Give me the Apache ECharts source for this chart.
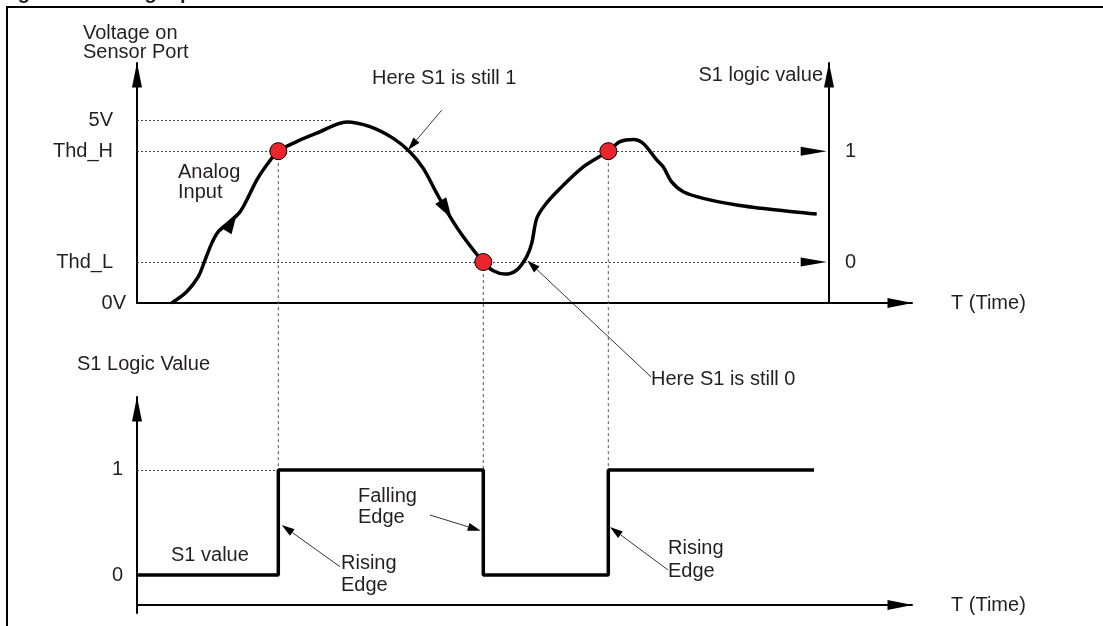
<!DOCTYPE html>
<html>
<head>
<meta charset="utf-8">
<script src="https://cdn.jsdelivr.net/npm/echarts@6/dist/echarts.min.js"></script>
<style>
    html, body { margin: 0; padding: 0; background: #fff; }
    #chart { width: 1103px; height: 626px; }
</style>
</head>
<body>
<div id="chart"></div>
<script>
// analog input on the sensor port (time units, volts)
const analogTime = [3.47, 4.97, 6.13, 6.8, 7.47, 8.13, 9.3, 10.3, 11.13, 11.97, 12.97, 14.13, 15.97, 17.97, 20.97, 23.3, 25.63, 27.3, 28.63, 29.97, 31.3, 32.63, 34.63, 35.63, 36.8, 37.97, 38.97, 39.47, 39.97, 40.8, 42.3, 44.63, 47.13, 48.3, 49.63, 50.63, 51.97, 52.63, 53.47, 54.63, 56.63, 59.97, 63.97, 67.97]
const analogVolt = [0, 0.31, 0.72, 1.17, 1.63, 1.95, 2.22, 2.49, 2.90, 3.36, 3.77, 4.15, 4.41, 4.64, 4.95, 4.82, 4.50, 4.13, 3.68, 3.0, 2.36, 1.81, 1.12, 0.88, 0.79, 0.90, 1.27, 1.63, 2.31, 2.68, 3.13, 3.72, 4.15, 4.41, 4.47, 4.36, 3.91, 3.72, 3.31, 3.04, 2.86, 2.68, 2.54, 2.43]

// threshold crossings (red dots)
const crossTime = [14.13, 34.63, 47.13]
const crossVolt = [4.15, 1.12, 4.15]

const thdHigh = 4.15
const thdLow = 1.12
const vMax = 5

// left axis ticks of the voltage plot
const levelTicks = [0, 1.12, 4.15, 5]
const levelNames = ['0V', 'Thd_L', 'Thd_H', '5V']
// right axis (S1 logic value) ticks
const logicRightTicks = [1.12, 4.15]
const logicRightNames = ['0', '1']

// S1 logic value (step)
const logicTime = [0, 14.13, 34.63, 47.13, 67.7]
const logicValue = [0, 1, 0, 1, 1]
const logicTicks = [0, 1]
const logicNames = ['0', '1']

let font = "'Liberation Sans', Arial, sans-serif"
let ink = '#231f20'
let fs = 20

let axisLine = {
    show: true,
    lineStyle: { color: '#000', width: 2 },
    symbol: ['none', 'triangle'],
    symbolSize: [10, 25],
    symbolOffset: [0, -12]
}
let labelStyle = { color: ink, fontSize: fs, fontFamily: font }

let option = {
    animation: false,
    grid: [
        { left: 137, top: 63, width: 775, height: 240, outerBoundsMode: 'none' },
        { left: 137, top: 397, width: 775, height: 216, outerBoundsMode: 'none' }
    ],
    xAxis: [{
        gridIndex: 0, type: 'value', min: 0, max: 77.5,
        axisLine: axisLine, axisTick: { show: false }, axisLabel: { show: false }, splitLine: { show: false },
        name: 'T (Time)', nameLocation: 'end', nameGap: 39,
        nameTextStyle: Object.assign({ align: 'left', verticalAlign: 'middle' }, labelStyle)
    }, {
        gridIndex: 1, type: 'value', min: 0, max: 77.5, offset: -8,
        axisLine: Object.assign({ onZero: false }, axisLine), axisTick: { show: false }, axisLabel: { show: false }, splitLine: { show: false },
        name: 'T (Time)', nameLocation: 'end', nameGap: 39,
        nameTextStyle: Object.assign({ align: 'left', verticalAlign: 'middle', padding: [0, 0, 16, 0] }, labelStyle)
    }],
    yAxis: [{
        gridIndex: 0, type: 'value', min: 0, max: 6.56,
        axisLine: axisLine, axisTick: { show: false }, splitLine: { show: false },
        axisLabel: Object.assign({
            margin: 24,
            customValues: levelTicks,
            formatter: function(v) {
                let i = levelTicks.indexOf(v)
                return i === 0 ? '{z|' + levelNames[i] + '}' : levelNames[i]
            },
            rich: { z: { fontSize: fs, fontFamily: font, color: ink, padding: [0, -13, 0, 0] } }
        }, labelStyle)
    }, {
        gridIndex: 0, type: 'value', min: 0, max: 6.56, position: 'right', offset: -83,
        axisLine: axisLine, axisTick: { show: false }, splitLine: { show: false },
        axisLabel: Object.assign({
            margin: 16,
            customValues: logicRightTicks,
            formatter: function(v) { return logicRightNames[logicRightTicks.indexOf(v)] }
        }, labelStyle)
    }, {
        gridIndex: 1, type: 'value', min: -0.362, max: 1.695,
        axisLine: axisLine, axisTick: { show: false }, splitLine: { show: false },
        axisLabel: Object.assign({
            margin: 14,
            customValues: logicTicks,
            formatter: function(v) { return logicNames[logicTicks.indexOf(v)] }
        }, labelStyle)
    }],
    series: [{
        name: 'Analog Input',
        type: 'line',
        xAxisIndex: 0, yAxisIndex: 0,
        data: analogTime.map((t, i) => [t, analogVolt[i]]),
        smooth: 0.3,
        showSymbol: false,
        lineStyle: { color: '#000', width: 3.5 },
        z: 5,
        markLine: {
            silent: true,
            symbol: 'none',
            label: { show: false },
            lineStyle: { color: '#444', type: [2, 2], width: 1 },
            data: [
                [{ coord: [0, vMax] }, { coord: [19.6, vMax] }],
                [{ coord: [0, thdHigh] }, { coord: [68, thdHigh] }],
                [{ coord: [0, thdLow] }, { coord: [68, thdLow] }]
            ]
        }
    }, {
        name: 'Crossing',
        type: 'scatter',
        xAxisIndex: 0, yAxisIndex: 0,
        data: crossTime.map((t, i) => [t, crossVolt[i]]),
        symbol: 'circle',
        symbolSize: 17,
        itemStyle: { color: '#e8262c', borderColor: '#000', borderWidth: 1, opacity: 1 },
        z: 8
    }, {
        name: 'S1 value',
        type: 'line',
        xAxisIndex: 1, yAxisIndex: 2,
        step: 'end',
        data: logicTime.map((t, i) => [t, logicValue[i]]),
        showSymbol: false,
        lineStyle: { color: '#000', width: 3.5 },
        z: 5,
        markLine: {
            silent: true,
            symbol: 'none',
            label: { show: false },
            lineStyle: { color: '#444', type: [2, 2], width: 1 },
            data: [[{ coord: [0, 1] }, { coord: [crossTime[0], 1] }]]
        }
    }]
}

var myChart = echarts.init(document.getElementById('chart'))
myChart.setOption(option)

// annotations, in data coords of their grid: [grid, fromT, fromV, tipT, tipV, len, width, withLine]
let arrows = [
    [0, 8.9, 1.97, 10.0, 2.46, 21, 13, false],      // direction on rising curve
    [0, 30.1, 2.92, 31.47, 2.31, 21, 13, false],    // direction on falling curve
    [0, 60, thdHigh, 68.97, thdHigh, 26, 9, false],
    [0, 60, thdLow, 68.97, thdLow, 26, 9, false],
    [0, 30.47, 5.27, 27.1, 4.18, 13, 8, true],      // Here S1 is still 1
    [0, 51.4, -2.02, 39.03, 1.16, 13, 8, true],     // Here S1 is still 0
    [1, 20.3, 0.079, 14.47, 0.476, 13, 8, true],    // Rising Edge
    [1, 29.3, 0.571, 34.37, 0.422, 13, 8, true],    // Falling Edge
    [1, 53.1, 0.048, 47.3, 0.457, 13, 8, true]      // Rising Edge
]

function px(g, p) {
    return myChart.convertToPixel({ gridIndex: g }, p)
}

let graphics = []

// frame and clipped caption
graphics.push({ type: 'rect', z: 1, shape: { x: 7, y: 7, width: 1200, height: 700 }, style: { fill: 'none', stroke: '#000', lineWidth: 2 } })
graphics.push({ type: 'text', z: 1, x: 0, y: 3, style: { text: 'Figure 8. Analog Input with Threshold', fontSize: fs, fontWeight: 'bold', fontFamily: font, fill: ink, align: 'left', verticalAlign: 'bottom' } })

// dashed drop lines from the crossings to the logic trace
crossTime.forEach((t, i) => {
    let a = px(0, [t, crossVolt[i]])
    let b = px(1, [t, 1])
    graphics.push({ type: 'line', z: 1, shape: { x1: a[0], y1: a[1], x2: b[0], y2: b[1] }, style: { stroke: '#555', lineWidth: 1, lineDash: [3, 3] } })
})

arrows.forEach(a => {
    let p0 = px(a[0], [a[1], a[2]])
    let p1 = px(a[0], [a[3], a[4]])
    let dx = p1[0] - p0[0], dy = p1[1] - p0[1]
    let d = Math.hypot(dx, dy)
    let ux = dx / d, uy = dy / d
    let bx = p1[0] - ux * a[5], by = p1[1] - uy * a[5]
    let w = a[6] / 2
    if (a[7]) {
        graphics.push({ type: 'line', z: 50, shape: { x1: p0[0], y1: p0[1], x2: bx, y2: by }, style: { stroke: '#000', lineWidth: 0.8 } })
    }
    graphics.push({
        type: 'polygon', z: 50,
        shape: { points: [p1, [bx - uy * w, by + ux * w], [bx + uy * w, by - ux * w]] },
        style: { fill: '#000' }
    })
})

function note(x, y, s, lh, align) {
    return {
        type: 'text', z: 50, x: x, y: y,
        style: { text: s, fontSize: fs, fontFamily: font, fill: ink, align: align || 'left', verticalAlign: 'middle', lineHeight: lh || 21 }
    }
}
graphics.push(note(83, 43, 'Voltage on\nSensor Port', 19))
graphics.push(note(372, 78, 'Here S1 is still 1'))
graphics.push(note(823, 75, 'S1 logic value', 21, 'right'))
graphics.push(note(178, 182, 'Analog\nInput', 20))
graphics.push(note(651, 379, 'Here S1 is still 0'))
graphics.push(note(77, 364, 'S1 Logic Value'))
graphics.push(note(171, 555, 'S1 value'))
graphics.push(note(341, 574, 'Rising\nEdge', 22))
graphics.push(note(358, 507, 'Falling\nEdge', 21))
graphics.push(note(668, 560, 'Rising\nEdge', 23))

myChart.setOption({ graphic: graphics })
</script>
</body>
</html>
